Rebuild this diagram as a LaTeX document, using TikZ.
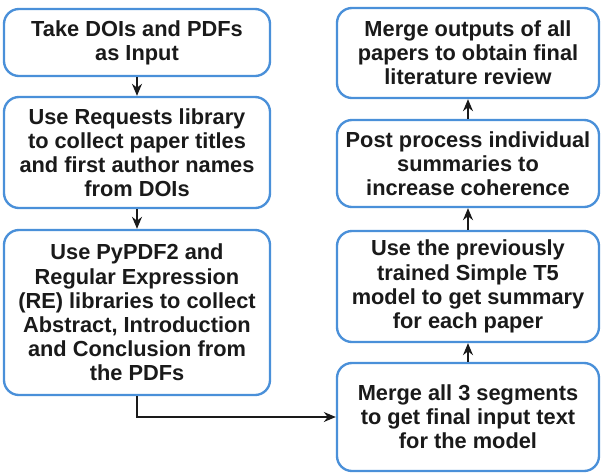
\documentclass[tikz,border=0pt]{standalone}
\usepackage{fontspec}
\setmainfont{Liberation Sans}
\usetikzlibrary{arrows.meta}

\definecolor{boxblue}{HTML}{4A90D9}
\definecolor{txtgray}{HTML}{1A1A1A}

\tikzset{
  stepbox/.style={draw=boxblue, line width=2pt, rounded corners=0.45cm, fill=white,
    align=center, text=txtgray, inner sep=0pt,
    font=\bfseries\fontsize{18.6}{20.6}\selectfont},
  leftbox/.style={stepbox, minimum width=7.98cm},
  rightbox/.style={stepbox, minimum width=7.86cm},
  flow/.style={line width=1.3pt, txtgray, -{Stealth[length=0.36cm,width=0.3cm]}}
}

\begin{document}
\begin{tikzpicture}[x=0.03cm,y=-0.03cm]
\useasboundingbox (0,0) rectangle (603,474);

\begin{scope}
% left column
\node[leftbox, minimum height=2.01cm] (input) at (137,42.5) {Take DOIs and PDFs\\as Input};
\node[leftbox, minimum height=3.33cm] (requests) at (137,152.5) {Use Requests library\\to collect paper titles\\and first author names\\from DOIs};
\node[leftbox, minimum height=4.95cm] (pypdf) at (137,312.5) {Use PyPDF2 and\\Regular Expression\\(RE) libraries to collect\\Abstract, Introduction\\and Conclusion from\\the PDFs};

% right column
\node[rightbox, minimum height=3.24cm] (segments) at (468,417) {Merge all 3 segments\\to get final input text\\for the model};
\node[rightbox, minimum height=3.33cm] (tfive) at (468,286.5) {Use the previously\\trained Simple T5\\model to get summary\\for each paper};
\node[rightbox, minimum height=2.61cm] (post) at (468,163.5) {Post process individual\\summaries to\\increase coherence};
\node[rightbox, minimum height=2.7cm] (review) at (468,53) {Merge outputs of all\\papers to obtain final\\literature review};

\draw[flow] (input) -- (requests);
\draw[flow] (requests) -- (pypdf);
\draw[flow] (pypdf.south) |- (segments.west);
\draw[flow] (segments) -- (tfive);
\draw[flow] (tfive) -- (post);
\draw[flow] (post) -- (review);
\end{scope}

\end{tikzpicture}
\end{document}
